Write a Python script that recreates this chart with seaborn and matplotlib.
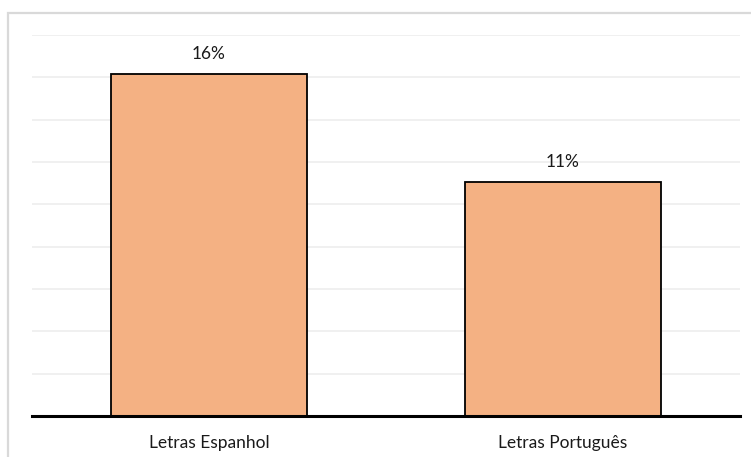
import matplotlib
matplotlib.use("Agg")
import matplotlib.pyplot as plt
import seaborn as sns
from matplotlib.patches import Rectangle

# data
categories = ["Letras Espanhol", "Letras Português"]
values = [16.15, 11.05]
value_labels = ["16%", "11%"]

sns.set_style("white")
plt.rcParams['font.family'] = ['Lato', 'DejaVu Sans']

fig = plt.figure(figsize=(7.51, 4.57), dpi=100)
ax = fig.add_axes([32 / 751, 1 - 416 / 457, 708 / 751, 381 / 457])

# light grey chart frame (cut off at right and bottom like the reference)
fig.patches.append(Rectangle((8 / 751, -0.1), 1.0, 1.1 - 13 / 457,
                             transform=fig.transFigure, fill=False,
                             edgecolor="#d9d9d9", linewidth=1.6))

sns.barplot(x=categories, y=values, color="#f4b183", saturation=1,
            edgecolor="black", linewidth=1.3, width=0.556, ax=ax, zorder=3)

ax.bar_label(ax.containers[0], labels=value_labels, padding=9,
             fontsize=12.5, color="#1a1a1a")

ax.set_ylim(0, 18)
ax.set_xlim(-0.5, 1.5)
ax.set_yticks(range(0, 19, 2))
ax.yaxis.grid(True, color="#efefef", linewidth=1.3, zorder=0)
ax.set_yticklabels([])
ax.tick_params(axis="y", length=0)
ax.tick_params(axis="x", length=0, labelsize=12.5, pad=14, labelcolor="#1a1a1a")

for s in ["top", "right", "left"]:
    ax.spines[s].set_visible(False)
ax.spines["bottom"].set_color("black")
ax.spines["bottom"].set_linewidth(2.2)
ax.spines["bottom"].set_zorder(4)
ax.set_xlabel("")
ax.set_ylabel("")

fig.savefig("out.png", dpi=100)
